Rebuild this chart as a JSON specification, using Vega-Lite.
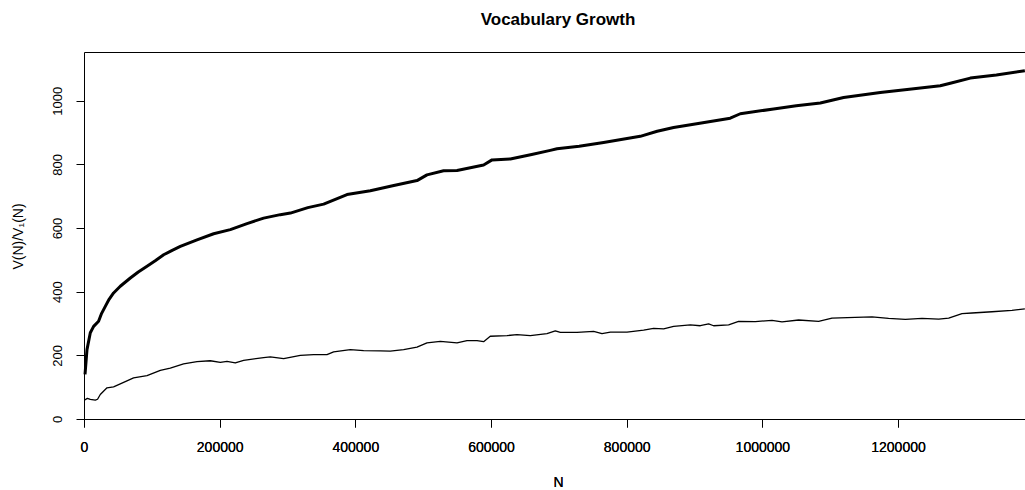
{
  "$schema": "https://vega.github.io/schema/vega-lite/v6.json",
  "autosize": "none",
  "padding": {"left": 84, "top": 52, "right": 0, "bottom": 71},
  "width": 941,
  "height": 367,
  "background": "white",
  "config": {
    "view": {"stroke": null},
    "font": "Liberation Sans",
    "axis": {"grid": false, "domainColor": "black", "tickColor": "black", "labelColor": "black", "titleColor": "black", "domainWidth": 1, "tickWidth": 1, "labelFontWeight": "normal"}
  },
  "title": {"text": "Vocabulary Growth", "fontSize": 17, "fontWeight": "bold", "font": "Liberation Sans", "color": "black", "anchor": "middle", "frame": "group", "baseline": "alphabetic", "offset": 10, "dx": 3.5},
  "datasets": {
    "growth": [
      {"N": 1500, "value": 140, "series": "V"},
      {"N": 4400, "value": 218, "series": "V"},
      {"N": 9300, "value": 271, "series": "V"},
      {"N": 14200, "value": 291, "series": "V"},
      {"N": 21500, "value": 307, "series": "V"},
      {"N": 26000, "value": 332, "series": "V"},
      {"N": 31400, "value": 354, "series": "V"},
      {"N": 37000, "value": 376, "series": "V"},
      {"N": 43600, "value": 396, "series": "V"},
      {"N": 53500, "value": 417, "series": "V"},
      {"N": 68300, "value": 443, "series": "V"},
      {"N": 80000, "value": 462, "series": "V"},
      {"N": 92900, "value": 480, "series": "V"},
      {"N": 105000, "value": 497, "series": "V"},
      {"N": 117400, "value": 516, "series": "V"},
      {"N": 130000, "value": 530, "series": "V"},
      {"N": 142000, "value": 542, "series": "V"},
      {"N": 166600, "value": 563, "series": "V"},
      {"N": 191100, "value": 582, "series": "V"},
      {"N": 215700, "value": 595, "series": "V"},
      {"N": 240300, "value": 614, "series": "V"},
      {"N": 264800, "value": 631, "series": "V"},
      {"N": 289400, "value": 642, "series": "V"},
      {"N": 304300, "value": 647, "series": "V"},
      {"N": 330000, "value": 664, "series": "V"},
      {"N": 353300, "value": 675, "series": "V"},
      {"N": 387700, "value": 705, "series": "V"},
      {"N": 422100, "value": 717, "series": "V"},
      {"N": 455000, "value": 733, "series": "V"},
      {"N": 490900, "value": 749, "series": "V"},
      {"N": 505600, "value": 767, "series": "V"},
      {"N": 530100, "value": 780, "series": "V"},
      {"N": 549900, "value": 781, "series": "V"},
      {"N": 589100, "value": 798, "series": "V"},
      {"N": 601500, "value": 814, "series": "V"},
      {"N": 628500, "value": 817, "series": "V"},
      {"N": 660000, "value": 831, "series": "V"},
      {"N": 687400, "value": 844, "series": "V"},
      {"N": 697300, "value": 849, "series": "V"},
      {"N": 730000, "value": 857, "series": "V"},
      {"N": 766000, "value": 869, "series": "V"},
      {"N": 820000, "value": 888, "series": "V"},
      {"N": 845000, "value": 904, "series": "V"},
      {"N": 869200, "value": 916, "series": "V"},
      {"N": 910000, "value": 930, "series": "V"},
      {"N": 952700, "value": 945, "series": "V"},
      {"N": 967500, "value": 959, "series": "V"},
      {"N": 1016600, "value": 974, "series": "V"},
      {"N": 1050000, "value": 984, "series": "V"},
      {"N": 1085500, "value": 993, "series": "V"},
      {"N": 1119800, "value": 1010, "series": "V"},
      {"N": 1173900, "value": 1026, "series": "V"},
      {"N": 1220000, "value": 1037, "series": "V"},
      {"N": 1262300, "value": 1047, "series": "V"},
      {"N": 1277100, "value": 1055, "series": "V"},
      {"N": 1306600, "value": 1071, "series": "V"},
      {"N": 1345000, "value": 1081, "series": "V"},
      {"N": 1387000, "value": 1094, "series": "V"},
      {"N": 1500, "value": 60, "series": "V1"},
      {"N": 5000, "value": 65, "series": "V1"},
      {"N": 9300, "value": 62, "series": "V1"},
      {"N": 16700, "value": 59, "series": "V1"},
      {"N": 20000, "value": 62, "series": "V1"},
      {"N": 24000, "value": 77, "series": "V1"},
      {"N": 33900, "value": 98, "series": "V1"},
      {"N": 43600, "value": 101, "series": "V1"},
      {"N": 58400, "value": 115, "series": "V1"},
      {"N": 73100, "value": 129, "series": "V1"},
      {"N": 92900, "value": 136, "series": "V1"},
      {"N": 112500, "value": 153, "series": "V1"},
      {"N": 127200, "value": 160, "series": "V1"},
      {"N": 146800, "value": 173, "series": "V1"},
      {"N": 166600, "value": 180, "series": "V1"},
      {"N": 186100, "value": 183, "series": "V1"},
      {"N": 201000, "value": 178, "series": "V1"},
      {"N": 210800, "value": 181, "series": "V1"},
      {"N": 223000, "value": 176, "series": "V1"},
      {"N": 235300, "value": 184, "series": "V1"},
      {"N": 264800, "value": 193, "series": "V1"},
      {"N": 274600, "value": 195, "series": "V1"},
      {"N": 294300, "value": 190, "series": "V1"},
      {"N": 318900, "value": 200, "series": "V1"},
      {"N": 338500, "value": 202, "series": "V1"},
      {"N": 358200, "value": 202, "series": "V1"},
      {"N": 368000, "value": 211, "series": "V1"},
      {"N": 392600, "value": 218, "series": "V1"},
      {"N": 412200, "value": 215, "series": "V1"},
      {"N": 436800, "value": 214, "series": "V1"},
      {"N": 451500, "value": 213, "series": "V1"},
      {"N": 471200, "value": 218, "series": "V1"},
      {"N": 490900, "value": 226, "series": "V1"},
      {"N": 505600, "value": 239, "series": "V1"},
      {"N": 525300, "value": 244, "series": "V1"},
      {"N": 549900, "value": 239, "series": "V1"},
      {"N": 564600, "value": 246, "series": "V1"},
      {"N": 579400, "value": 246, "series": "V1"},
      {"N": 589100, "value": 243, "series": "V1"},
      {"N": 598900, "value": 260, "series": "V1"},
      {"N": 623600, "value": 262, "series": "V1"},
      {"N": 638300, "value": 265, "series": "V1"},
      {"N": 657900, "value": 262, "series": "V1"},
      {"N": 682500, "value": 268, "series": "V1"},
      {"N": 694800, "value": 277, "series": "V1"},
      {"N": 702200, "value": 272, "series": "V1"},
      {"N": 726800, "value": 272, "series": "V1"},
      {"N": 751300, "value": 275, "series": "V1"},
      {"N": 763600, "value": 268, "series": "V1"},
      {"N": 776000, "value": 273, "series": "V1"},
      {"N": 800500, "value": 273, "series": "V1"},
      {"N": 825000, "value": 279, "series": "V1"},
      {"N": 839700, "value": 285, "series": "V1"},
      {"N": 854500, "value": 283, "series": "V1"},
      {"N": 869200, "value": 291, "series": "V1"},
      {"N": 893800, "value": 296, "series": "V1"},
      {"N": 908500, "value": 293, "series": "V1"},
      {"N": 920800, "value": 299, "series": "V1"},
      {"N": 928200, "value": 293, "series": "V1"},
      {"N": 950300, "value": 296, "series": "V1"},
      {"N": 965000, "value": 307, "series": "V1"},
      {"N": 989600, "value": 306, "series": "V1"},
      {"N": 1014200, "value": 310, "series": "V1"},
      {"N": 1029000, "value": 305, "series": "V1"},
      {"N": 1053500, "value": 311, "series": "V1"},
      {"N": 1083000, "value": 307, "series": "V1"},
      {"N": 1102700, "value": 317, "series": "V1"},
      {"N": 1137000, "value": 319, "series": "V1"},
      {"N": 1161700, "value": 321, "series": "V1"},
      {"N": 1186100, "value": 316, "series": "V1"},
      {"N": 1210800, "value": 313, "series": "V1"},
      {"N": 1235400, "value": 316, "series": "V1"},
      {"N": 1260000, "value": 314, "series": "V1"},
      {"N": 1274700, "value": 317, "series": "V1"},
      {"N": 1294300, "value": 331, "series": "V1"},
      {"N": 1309100, "value": 333, "series": "V1"},
      {"N": 1338500, "value": 337, "series": "V1"},
      {"N": 1368000, "value": 341, "series": "V1"},
      {"N": 1387000, "value": 346, "series": "V1"}
    ]
  },
  "data": {"name": "growth"},
  "encoding": {
    "x": {
      "field": "N", "type": "quantitative",
      "scale": {"domain": [0, 1387200], "nice": false, "zero": false},
      "axis": {
        "orient": "bottom",
        "values": [0, 200000, 400000, 600000, 800000, 1000000, 1200000],
        "format": "d",
        "labelFontSize": 14, "labelPadding": 13, "tickSize": 8,
        "labelFlush": false, "labelOverlap": false,
        "title": "N", "titleFontSize": 14, "titleFontWeight": "normal",
        "titleX": 474, "titleY": 67, "titleBaseline": "alphabetic", "titleAlign": "center"
      }
    },
    "y": {
      "field": "value", "type": "quantitative",
      "scale": {"domain": [0, 1153], "nice": false, "zero": false},
      "axis": {
        "orient": "left",
        "values": [0, 200, 400, 600, 800, 1000],
        "format": "d",
        "labelFontSize": 13, "labelAngle": -90, "labelAlign": "center", "labelBaseline": "bottom",
        "labelPadding": 12, "tickSize": 8, "labelFlush": false, "labelOverlap": false,
        "title": "V(N)/V₁(N)", "titleFontSize": 14, "titleFontWeight": "normal",
        "titleAngle": -90, "titleX": -62, "titleY": 184, "titleBaseline": "alphabetic", "titleAlign": "center"
      }
    }
  },
  "layer": [
    {
      "transform": [{"filter": "datum.series == 'V'"}],
      "mark": {"type": "line", "color": "black", "strokeWidth": 3, "strokeJoin": "round"}
    },
    {
      "transform": [{"filter": "datum.series == 'V1'"}],
      "mark": {"type": "line", "color": "black", "strokeWidth": 1.3, "strokeJoin": "round"}
    },
    {
      "mark": {"type": "rule", "opacity": 0},
      "encoding": {
        "x": {"field": "N", "type": "quantitative", "axis": {"orient": "top", "labels": false, "ticks": false, "title": null, "domain": true, "domainColor": "black"}}
      }
    }
  ]
}
